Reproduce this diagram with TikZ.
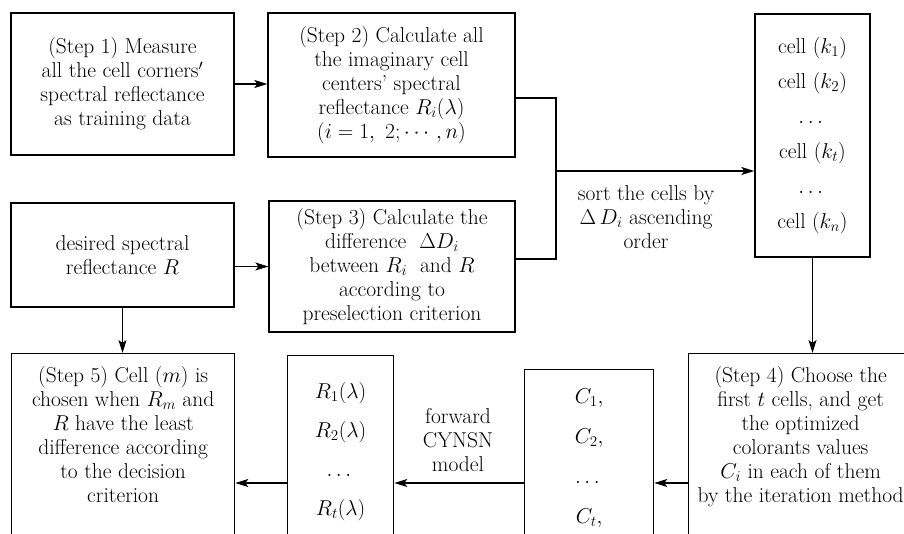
\RequirePackage{fix-cm}
\documentclass[tikz,border=0pt]{standalone}
\usepackage{amsmath,amssymb}
\usetikzlibrary{arrows.meta}

% text of a box whose lower edge runs off the page
\newcommand{\cuttext}[3]{\parbox[c][210pt][t]{#1}{\centering\vspace*{#2}\strut#3}}

\begin{document}
\begin{tikzpicture}[x=1pt, y=-1pt,
    font=\fontsize{21.5}{24}\selectfont,
    box/.style={draw, line width=1.3pt, align=center, inner sep=0pt},
    cutbox/.style={draw, line width=1.3pt, inner sep=0pt, anchor=north west},
    link/.style={line width=1.3pt},
    arr/.style={link, -{Stealth[length=13pt, width=8pt, inset=3pt]}}]

        \clip[use as bounding box] (0,0) rectangle (904,533);

        % Upper boxes
        \node[box, minimum width=223pt, minimum height=142pt] (step1) at (122.5,84)
            {(Step 1) Measure\\all the cell corners$'$\\spectral reflectance\\as training data};
        \node[box, minimum width=247pt, minimum height=144pt] (step2) at (391.5,85)
            {(Step 2) Calculate all\\the imaginary cell\\centers' spectral\\reflectance $R_i(\lambda)$\\$(i = 1,\ 2;\cdots,n)$};
        \node[box, minimum width=115pt, minimum height=243pt] (cells) at (812.5,135.5)
            {cell $(k_1)$\\[11pt]cell $(k_2)$\\[11pt]$\dots$\\[11pt]cell $(k_t)$\\[11pt]$\dots$\\[11pt]cell $(k_n)$};
        \node[box, minimum width=223pt, minimum height=104pt] (desired) at (122.5,255)
            {desired spectral\\reflectance $R$};
        \node[box, minimum width=246pt, minimum height=131pt] (step3) at (392,266.5)
            {(Step 3) Calculate the\\difference~ $\Delta D_i$\\between $R_i$~ and $R$\\according to\\preselection criterion};

        % Lower boxes, cut by the page edge
        \node[cutbox] (step5) at (11,353)
            {\cuttext{223pt}{12pt}{(Step 5) Cell $(m)$ is\\chosen when $R_m$ and\\$R$ have the least\\difference according\\to the decision\\criterion}};
        \node[cutbox] (rlist) at (287,355)
            {\cuttext{106pt}{26pt}{$R_1(\lambda)$\\[15pt]$R_2(\lambda)$\\[15pt]$\dots$\\[15pt]$R_t(\lambda)$}};
        \node[cutbox] (clist) at (524,369)
            {\cuttext{129pt}{17pt}{$C_1,$\\[16pt]$C_2,$\\[16pt]$\dots$\\[16pt]$C_t,$}};
        \node[cutbox] (step4) at (688,353)
            {\cuttext{224pt}{12pt}{(Step 4) Choose the\\first $t$ cells, and get\\the optimized\\colorants values\\$C_i$ in each of them\\by the iteration method}};

        % Connector labels
        \node[align=center] (sortlbl) at (646,217) {sort the cells by\\$\Delta\,D_i$ ascending\\order};
        \node[align=center] (fwdlbl) at (458,440) {forward\\CYNSN\\model};

        % Junction points
        \coordinate (split) at (556,98);
        \coordinate (join) at (556,259);
        \coordinate (mid) at (556,171);
        \coordinate (low) at (0,483);

        % Connectors
        \draw[arr] (step1.east) -- (step1.east -| step2.west);
        \draw[link] (step2.east |- split) -- (split) -- (join) -- (step3.east |- join);
        \draw[arr] (mid) -- (mid -| cells.west);
        \draw[arr] (desired.east |- step3.west) -- (step3.west);
        \draw[arr] (desired.south) -- (step5.north -| desired.south);
        \draw[arr] (cells.south) -- (cells.south |- step4.north);
        \draw[arr] (step4.west |- low) -- (clist.east |- low);
        \draw[arr] (clist.west |- low) -- (rlist.east |- low);
        \draw[arr] (rlist.west |- low) -- (step5.east |- low);
      \end{tikzpicture}
\end{document}
